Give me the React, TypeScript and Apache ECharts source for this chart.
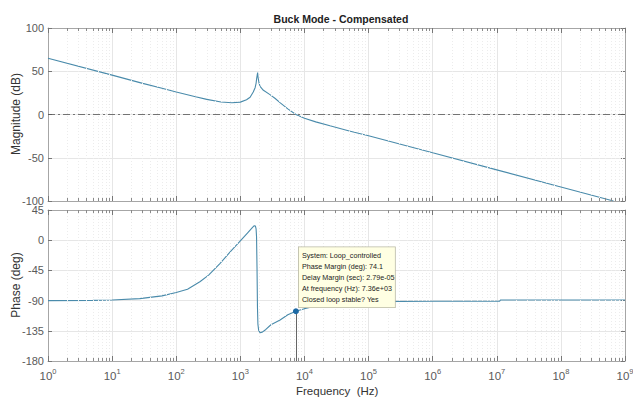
import React, { useEffect, useRef } from 'react';
import * as echarts from 'echarts';

// ---- data ----
const MAG_FREQ = [1, 10, 30, 56, 100, 200, 300, 500, 740, 1000, 1250, 1420, 1590, 1700, 1760, 1800, 1840, 1860, 1890, 1950, 2030, 2290, 2900, 3500, 4200, 5500, 7360, 10000, 15000, 25000, 50000, 100000, 1e6, 1e7, 1e8, 6.6e8];
const MAG_DB = [65, 45.5, 36, 31, 26, 20.5, 17.5, 14.5, 13.6, 14.3, 17, 20, 26, 31, 36, 42, 46, 48.5, 43, 37, 32.5, 28, 23, 18.5, 13.5, 6.5, 0, -4.3, -8.5, -13, -19, -24.5, -44.3, -64, -83.8, -100];

const PH_FREQ = [1, 5, 10, 27, 60, 100, 150, 234, 320, 480, 700, 1000, 1300, 1550, 1650, 1720, 1760, 1790, 1820, 1850, 1880, 1930, 2030, 2200, 2500, 3000, 4170, 5500, 7360, 10000, 15000, 25000, 50000, 100000, 1e6, 1.1e7, 1.15e7, 1e9];
const PH_DEG = [-90, -89.7, -89, -87, -83, -78, -73, -62, -52, -35, -17, -1, 11, 19, 21.6, 21, 17, 5, -40, -100, -125, -134, -138, -137, -133, -126, -119, -111, -105.9, -102, -98, -95, -92.5, -91.5, -91, -91, -89, -89];

const PM_FREQ = 7360;
const PM_PHASE = -105.9;
const INFO_LINES = [
  'System: Loop_controlled',
  'Phase Margin (deg): 74.1',
  'Delay Margin (sec): 2.79e-05',
  'At frequency (Hz): 7.36e+03',
  'Closed loop stable? Yes',
];

const TITLE = 'Buck Mode - Compensated';
const X_NAME = 'Frequency  (Hz)';
const MAG_NAME = 'Magnitude (dB)';
const PH_NAME = 'Phase (deg)';

const X_MIN = 1;
const X_MAX = 1e9;
const MAG_MIN = -100, MAG_MAX = 100, MAG_STEP = 50;
const PH_MIN = -180, PH_MAX = 45, PH_STEP = 45;

const DECADES = [0, 1, 2, 3, 4, 5, 6, 7, 8];
const MINOR_MULTS = [2, 3, 4, 5, 6, 7, 8, 9];

const FONT = 'Liberation Sans, Arial, Helvetica, sans-serif';
const LINE_COLOR = '#4a8bab';
const AXIS_COLOR = '#a6a6a6';
const GRID_COLOR = '#e6e6e6';
const MINOR_COLOR = '#ececec';
const LABEL_COLOR = '#5a5a5a';

function minorValues(): number[] {
  const out: number[] = [];
  DECADES.forEach((d) => MINOR_MULTS.forEach((m) => out.push(m * Math.pow(10, d))));
  return out;
}

export default function App() {
  const ref = useRef<HTMLDivElement>(null);
  useEffect(() => {
    if (!ref.current) return;
    const chart = echarts.init(ref.current, undefined, { renderer: 'svg' });

    const minors = minorValues();

    const gridTop = { left: 48, right: 8, top: 28, height: 173, containLabel: false, outerBoundsMode: 'none' };
    const gridBot = { left: 48, right: 8, top: 210, height: 151, containLabel: false, outerBoundsMode: 'none' };

    const magTick = (MAG_MAX - MAG_MIN) * 3 / gridTop.height;
    const phTick = (PH_MAX - PH_MIN) * 3 / gridBot.height;

    const minorGrid = minors.map((v) => ({ xAxis: v }));
    const tickSegs = (ymax: number, ymin: number, len: number) => {
      const segs: any[] = [];
      minors.forEach((v) => {
        segs.push([{ coord: [v, ymax] }, { coord: [v, ymax - len] }]);
        segs.push([{ coord: [v, ymin] }, { coord: [v, ymin + len] }]);
      });
      return segs;
    };

    const xAxisBase = (gridIndex: number, showLabel: boolean, position: string) => ({
      type: 'log',
      logBase: 10,
      gridIndex,
      min: X_MIN,
      max: X_MAX,
      position,
      axisLine: { show: true, onZero: false, lineStyle: { color: AXIS_COLOR, width: 1 } },
      axisTick: { show: true, inside: true, length: 5, lineStyle: { color: '#777' } },
      splitLine: { show: position === 'bottom', lineStyle: { color: GRID_COLOR, width: 1 } },
      axisLabel: showLabel
        ? {
            show: true,
            margin: 6,
            hideOverlap: false,
            formatter: (v: number) => `{b|10}{s|${Math.round(Math.log10(v))}}`,
            rich: {
              b: { fontSize: 11.5, color: LABEL_COLOR, fontFamily: FONT, verticalAlign: 'bottom' },
              s: { fontSize: 7.5, color: LABEL_COLOR, fontFamily: FONT, verticalAlign: 'bottom', padding: [0, 0, 7, 0] },
            },
          }
        : { show: false },
    });

    const yAxisBase = (gridIndex: number, min: number, max: number, step: number, position: string) => ({
      type: 'value',
      gridIndex,
      min,
      max,
      interval: step,
      position,
      axisLine: { show: true, onZero: false, lineStyle: { color: AXIS_COLOR, width: 1 } },
      axisTick: { show: true, inside: true, length: 4, lineStyle: { color: '#777' } },
      splitLine: { show: position === 'left', lineStyle: { color: GRID_COLOR, width: 1 } },
      axisLabel: position === 'left'
        ? { show: true, fontSize: 11, color: LABEL_COLOR, fontFamily: FONT, margin: 4 }
        : { show: false },
    });

    const noSym = ['none', 'none'];
    const nameStyle = { fontSize: 12, fill: '#333', fontFamily: FONT, align: 'center', verticalAlign: 'middle' };

    chart.setOption({
      animation: false,
      backgroundColor: '#ffffff',
      title: {
        text: TITLE,
        left: 336,
        textAlign: 'center',
        top: 8,
        textStyle: { fontSize: 10.5, fontWeight: 'bold', color: '#222', fontFamily: FONT },
      },
      grid: [gridTop, gridBot],
      xAxis: [
        xAxisBase(0, false, 'bottom'),
        xAxisBase(1, true, 'bottom'),
        xAxisBase(0, false, 'top'),
        xAxisBase(1, false, 'top'),
      ],
      yAxis: [
        yAxisBase(0, MAG_MIN, MAG_MAX, MAG_STEP, 'left'),
        yAxisBase(1, PH_MIN, PH_MAX, PH_STEP, 'left'),
        yAxisBase(0, MAG_MIN, MAG_MAX, MAG_STEP, 'right'),
        yAxisBase(1, PH_MIN, PH_MAX, PH_STEP, 'right'),
      ],
      graphic: [
        {
          type: 'text',
          left: 336 - 40,
          top: 385,
          style: { text: X_NAME, fontSize: 11.5, fill: '#333', fontFamily: FONT },
        },
        {
          type: 'text',
          x: 16,
          y: 114,
          rotation: Math.PI / 2,
          style: { text: MAG_NAME, ...nameStyle },
        },
        {
          type: 'text',
          x: 16,
          y: 285,
          rotation: Math.PI / 2,
          style: { text: PH_NAME, ...nameStyle },
        },
      ],
      series: [
        {
          type: 'line', xAxisIndex: 0, yAxisIndex: 0, data: [], silent: true, z: 1,
          markLine: {
            silent: true, symbol: noSym, label: { show: false },
            lineStyle: { color: MINOR_COLOR, type: [1, 2], width: 1 },
            data: minorGrid,
          },
        },
        {
          type: 'line', xAxisIndex: 0, yAxisIndex: 0, data: [], silent: true, z: 1,
          markLine: {
            silent: true, symbol: noSym, label: { show: false },
            lineStyle: { color: '#8a8a8a', type: 'solid', width: 1 },
            data: tickSegs(MAG_MAX, MAG_MIN, magTick),
          },
        },
        {
          type: 'line', xAxisIndex: 1, yAxisIndex: 1, data: [], silent: true, z: 1,
          markLine: {
            silent: true, symbol: noSym, label: { show: false },
            lineStyle: { color: MINOR_COLOR, type: [1, 2], width: 1 },
            data: minorGrid,
          },
        },
        {
          type: 'line', xAxisIndex: 1, yAxisIndex: 1, data: [], silent: true, z: 1,
          markLine: {
            silent: true, symbol: noSym, label: { show: false },
            lineStyle: { color: '#8a8a8a', type: 'solid', width: 1 },
            data: tickSegs(PH_MAX, PH_MIN, phTick),
          },
        },
        {
          type: 'line',
          xAxisIndex: 0,
          yAxisIndex: 0,
          data: MAG_FREQ.map((f, i) => [f, MAG_DB[i]]),
          showSymbol: false,
          smooth: false,
          z: 3,
          lineStyle: { color: LINE_COLOR, width: 1.1 },
          markLine: {
            silent: true, symbol: noSym, label: { show: false },
            lineStyle: { color: '#555', type: [7, 3, 2, 3], width: 0.8 },
            data: [{ yAxis: 0 }],
          },
        },
        {
          type: 'line',
          xAxisIndex: 1,
          yAxisIndex: 1,
          data: PH_FREQ.map((f, i) => [f, PH_DEG[i]]),
          showSymbol: false,
          smooth: false,
          z: 3,
          lineStyle: { color: LINE_COLOR, width: 1.1 },
          markLine: {
            silent: true, symbol: noSym, label: { show: false },
            lineStyle: { color: '#666', type: 'solid', width: 1 },
            data: [[{ coord: [PM_FREQ, PM_PHASE] }, { coord: [PM_FREQ, PH_MIN] }]],
          },
          markPoint: {
            symbol: 'circle',
            symbolSize: 6,
            itemStyle: { color: '#1d6aa5' },
            data: [{ coord: [PM_FREQ, PM_PHASE] }],
            label: {
              show: true,
              position: [6, -61],
              align: 'left',
              verticalAlign: 'top',
              formatter: INFO_LINES.join('\n'),
              fontSize: 7.2,
              lineHeight: 11,
              color: '#222',
              fontFamily: FONT,
              backgroundColor: '#ffffe3',
              borderColor: '#b9b9a4',
              borderWidth: 0.8,
              padding: [3, 3, 2, 3],
              width: 90,
            },
          },
        },
      ],
    });

    return () => chart.dispose();
  }, []);

  return (
    <div
      ref={ref}
      style={{ position: 'absolute', left: 0, top: 0, width: 633, height: 401 }}
    />
  );
}
